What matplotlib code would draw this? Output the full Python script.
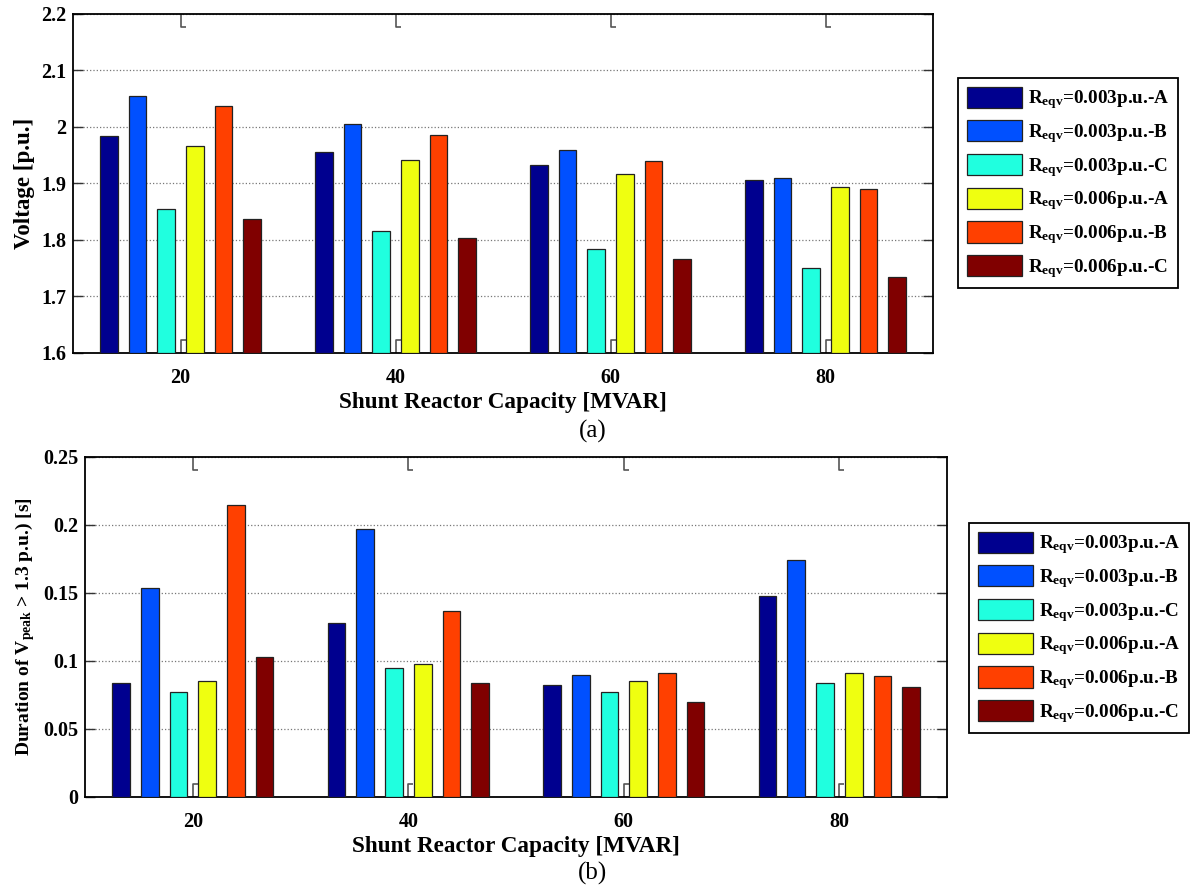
import numpy as np
import matplotlib
matplotlib.use("Agg")
import matplotlib.pyplot as plt
from matplotlib.path import Path

plt.rcParams['font.family'] = ['Liberation Serif', 'DejaVu Serif']
plt.rcParams['font.weight'] = 'bold'
plt.rcParams['mathtext.fontset'] = 'custom'
plt.rcParams['mathtext.rm'] = 'Liberation Serif:bold'
plt.rcParams['mathtext.bf'] = 'Liberation Serif:bold'
plt.rcParams['mathtext.it'] = 'Liberation Serif:bold'

categories = ['20', '40', '60', '80']
series_labels = [r'$\mathrm{R}_{\mathrm{eqv}}$=0.003p.u.-A',
                 r'$\mathrm{R}_{\mathrm{eqv}}$=0.003p.u.-B',
                 r'$\mathrm{R}_{\mathrm{eqv}}$=0.003p.u.-C',
                 r'$\mathrm{R}_{\mathrm{eqv}}$=0.006p.u.-A',
                 r'$\mathrm{R}_{\mathrm{eqv}}$=0.006p.u.-B',
                 r'$\mathrm{R}_{\mathrm{eqv}}$=0.006p.u.-C']
colors = ['#00008F', '#0050FF', '#20FFDF', '#EFFF10', '#FF4000', '#800000']

# (a) Voltage [p.u.], one list per series, values per category
volt_003A = [1.984, 1.956, 1.933, 1.906]
volt_003B = [2.054, 2.005, 1.959, 1.910]
volt_003C = [1.854, 1.816, 1.784, 1.750]
volt_006A = [1.966, 1.942, 1.917, 1.893]
volt_006B = [2.037, 1.986, 1.939, 1.891]
volt_006C = [1.837, 1.803, 1.767, 1.735]

# (b) Duration [s]
dur_003A = [0.084, 0.128, 0.082, 0.148]
dur_003B = [0.154, 0.197, 0.090, 0.174]
dur_003C = [0.077, 0.095, 0.077, 0.084]
dur_006A = [0.085, 0.098, 0.085, 0.091]
dur_006B = [0.215, 0.137, 0.091, 0.089]
dur_006C = [0.103, 0.084, 0.070, 0.081]

volt = [volt_003A, volt_003B, volt_003C, volt_006A, volt_006B, volt_006C]
dur = [dur_003A, dur_003B, dur_003C, dur_006A, dur_006B, dur_006C]

fig = plt.figure(figsize=(11.91, 8.88), dpi=100)
ax1 = fig.add_axes([0.0613, 0.6025, 0.7221, 0.3818])
ax2 = fig.add_axes([0.0714, 0.1025, 0.7238, 0.3829])

x = np.arange(1, len(categories) + 1)
step = 0.8 / 6
bw = 0.082

bot_path = Path([(0, 0), (0, 1), (0.35, 1)], [Path.MOVETO, Path.LINETO, Path.LINETO])
top_path = Path([(0, 0), (0, -1), (0.35, -1)], [Path.MOVETO, Path.LINETO, Path.LINETO])


def draw(ax, data, ylim, yticks, yticklabels, ylabel, ylabfs, base):
    handles = []
    for i, (vals, c, lab) in enumerate(zip(data, colors, series_labels)):
        h = ax.bar(x + (i - 2.5) * step, np.array(vals) - base, width=bw, bottom=base,
                   color=c, edgecolor='#222222', linewidth=0.9, label=lab, zorder=3)
        handles.append(h)
    ax.set_xlim(0.5, 4.5)
    ax.set_ylim(*ylim)
    ax.set_yticks(yticks)
    ax.set_yticklabels(yticklabels, fontsize=14.5, fontweight='bold')
    ax.set_xticks(x)
    ax.set_xticklabels(categories, fontsize=14.5, fontweight='bold')
    ax.set_axisbelow(True)
    ax.yaxis.grid(True, linestyle=':', color='#777777', linewidth=0.9)
    ax.tick_params(axis='y', direction='in', length=7, width=1, color='#333333',
                   right=True, left=True, pad=5)
    ax.tick_params(axis='x', top=True, bottom=True, pad=7.5)
    for t in ax.xaxis.get_major_ticks():
        for ln, p in ((t.tick1line, bot_path), (t.tick2line, top_path)):
            ln.set_marker(p)
            ln.set_markersize(19)
            ln.set_markerfacecolor('none')
            ln.set_markeredgecolor('#555555')
            ln.set_markeredgewidth(1.2)
    for s in ax.spines.values():
        s.set_linewidth(1.3)
        s.set_color('black')
    ax.set_xlabel('Shunt Reactor Capacity [MVAR]', fontsize=16.7, fontweight='bold', labelpad=3)
    ax.set_ylabel(ylabel, fontsize=ylabfs, fontweight='bold', labelpad=4)
    return handles


h1 = draw(ax1, volt, (1.6, 2.2), [1.6, 1.7, 1.8, 1.9, 2.0, 2.1, 2.2],
          ['1.6', '1.7', '1.8', '1.9', '2', '2.1', '2.2'], 'Voltage [p.u.]', 16.5, 1.6)
h2 = draw(ax2, dur, (0, 0.25), [0, 0.05, 0.1, 0.15, 0.2, 0.25],
          ['0', '0.05', '0.1', '0.15', '0.2', '0.25'],
          r'Duration of V$_{\mathrm{peak}}$ > 1.3 p.u.) [s]', 14.0, 0.0)

leg_kw = dict(loc='upper left', fontsize=13.8, handlelength=2.9, handleheight=1.32,
              labelspacing=0.47, handletextpad=0.3, borderpad=0.45, borderaxespad=0,
              fancybox=False, framealpha=1, edgecolor='black')
l1 = fig.legend(h1, series_labels, bbox_to_anchor=(958 / 1191, 1 - 78 / 888), **leg_kw)
l2 = fig.legend(h2, series_labels, bbox_to_anchor=(969 / 1191, 1 - 523 / 888), **leg_kw)
for l in (l1, l2):
    l.get_frame().set_linewidth(1.3)

fig.text(0.4975, 1 - 431 / 888, '(a)', ha='center', va='center', fontsize=18,
         fontweight='normal')
fig.text(0.4975, 1 - 873 / 888, '(b)', ha='center', va='center', fontsize=18,
         fontweight='normal')

fig.savefig('out.png', dpi=100)
